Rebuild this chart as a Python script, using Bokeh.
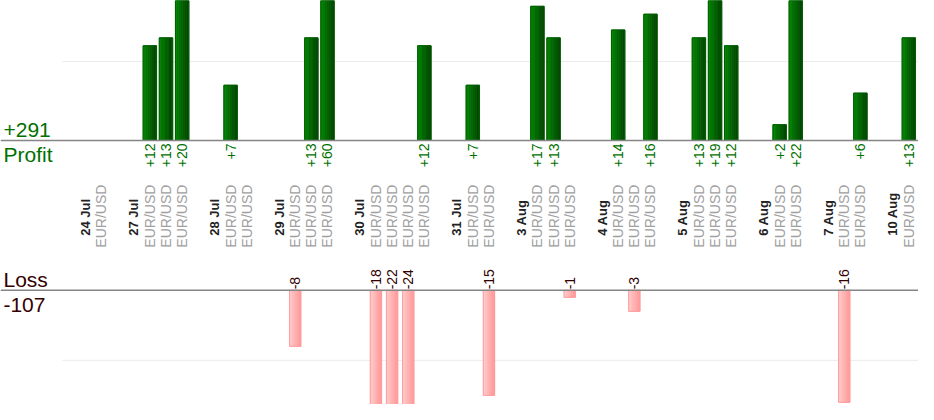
import numpy as np
from bokeh.plotting import figure
from bokeh.models import Range1d
from bokeh.core.properties import value
from bokeh.embed import file_html
from bokeh.resources import INLINE

# ---------------- data ----------------
dates = ["24 Jul", "27 Jul", "28 Jul", "29 Jul", "30 Jul", "31 Jul",
         "3 Aug", "4 Aug", "5 Aug", "6 Aug", "7 Aug", "10 Aug"]
trade_day = [0, 1, 1, 1, 2, 2, 3, 3, 3, 4, 4, 4, 4, 5, 5, 6, 6, 6,
             7, 7, 7, 8, 8, 8, 9, 9, 10, 10, 11]
pnl = [0, 12, 13, 20, 7, 0, -8, 13, 60, -18, -22, -24, 12, 7, -15,
       17, 13, -1, 14, -3, 16, 13, 19, 12, 2, 22, -16, 6, 13]
pair = ["EUR/USD"] * len(pnl)
profit_grid = [10]
loss_grid = [-10]

total_profit = sum(v for v in pnl if v > 0)
total_loss = sum(v for v in pnl if v < 0)

# ---------------- slot layout ----------------
date_slot, trade_slot = [], []
s = 0
for d in range(len(dates)):
    s += 1                 # empty gap slot
    date_slot.append(s)
    s += 1
    for day in trade_day:
        if day == d:
            trade_slot.append(s)
            s += 1
n_slots = s

REF_W, REF_H = 934, 407
W, H = 918, 404
SLOT0, SLOT_W = 69.8, 16.43
PROFIT_BASE, PROFIT_PX = 141, 7.95
LOSS_BASE, LOSS_PX = 292, 7.05


def xr(px):
    return (px - SLOT0) / SLOT_W


FONT = value("Liberation Sans")
GREEN_TXT = "#007000"
LOSS_TXT = "#330000"

p = figure(width=W, height=H, x_range=Range1d(xr(0), xr(REF_W)),
           y_range=Range1d(-REF_H, 0), output_backend="svg",
           toolbar_location=None, min_border=0,
           x_axis_type=None, y_axis_type=None)
p.extra_y_ranges = {
    "profit": Range1d(-(REF_H - PROFIT_BASE) / PROFIT_PX, PROFIT_BASE / PROFIT_PX),
    "loss": Range1d(-(REF_H - LOSS_BASE) / LOSS_PX, LOSS_BASE / LOSS_PX),
}
p.outline_line_color = None
p.background_fill_color = "white"
p.border_fill_color = "white"

# grid lines
p.segment(x0=xr(63), x1=xr(REF_W), y0=profit_grid, y1=profit_grid,
          line_color="#ebebeb", line_width=1, y_range_name="profit")
p.segment(x0=xr(63), x1=xr(REF_W), y0=loss_grid, y1=loss_grid,
          line_color="#ebebeb", line_width=1, y_range_name="loss")


def lerp(c1, c2, t):
    a = [int(c1[i:i + 2], 16) for i in (1, 3, 5)]
    b = [int(c2[i:i + 2], 16) for i in (1, 3, 5)]
    return "#%02x%02x%02x" % tuple(round(a[j] + (b[j] - a[j]) * t) for j in range(3))


def gradient_bars(xs, tops, bottoms, bw, c_left, c_right, edge, rname, K=10):
    sx, st, sb, sc = [], [], [], []
    for x, t, b in zip(xs, tops, bottoms):
        for k in range(K):
            sx.append(x - bw / 2 + (k + 0.5) * bw / K)
            st.append(t)
            sb.append(b)
            sc.append(lerp(c_left, c_right, k / (K - 1)))
    p.vbar(x=sx, top=st, bottom=sb, width=bw / K, fill_color=sc,
           line_color=sc, line_width=0.8, y_range_name=rname)
    p.vbar(x=xs, top=tops, bottom=bottoms, width=bw, fill_color=None,
           line_color=edge, line_width=1, y_range_name=rname)


pos_x = [trade_slot[i] for i, v in enumerate(pnl) if v > 0]
pos_v = [v for v in pnl if v > 0]
neg_x = [trade_slot[i] for i, v in enumerate(pnl) if v < 0]
neg_v = [v for v in pnl if v < 0]

gradient_bars(pos_x, pos_v, [0] * len(pos_v), 0.83, "#008400", "#004600",
              "#005e00", "profit")
gradient_bars(neg_x, [0] * len(neg_v), neg_v, 0.70, "#ffcccc", "#ff9a9a",
              "#ff9c9c", "loss")

# baselines
p.segment(x0=xr(0), x1=xr(REF_W), y0=[0], y1=[0], line_color="#858585",
          line_width=1.5, y_range_name="profit")
p.segment(x0=xr(0), x1=xr(REF_W), y0=[0], y1=[0], line_color="#858585",
          line_width=1.5, y_range_name="loss")

# value labels
p.text(x=pos_x, y=[-144] * len(pos_x), text=[f"+{v}" for v in pos_v],
       angle=np.pi / 2, text_align="right", text_baseline="middle",
       text_font=FONT, text_font_size="14px", text_color=GREEN_TXT)
p.text(x=neg_x, y=[-291] * len(neg_x), text=[f"{v}" for v in neg_v],
       angle=np.pi / 2, text_align="left", text_baseline="middle",
       text_font=FONT, text_font_size="14px", text_color=LOSS_TXT)

# category labels
p.text(x=date_slot, y=[-237] * len(date_slot), text=dates,
       angle=np.pi / 2, text_align="left", text_baseline="middle",
       text_font=FONT, text_font_size="13px", text_font_style="bold",
       text_color="#222222")
p.text(x=trade_slot, y=[-249] * len(trade_slot), text=pair,
       angle=np.pi / 2, text_align="left", text_baseline="middle",
       text_font=FONT, text_font_size="14px", text_color="#a0a0a0")

# side summary labels
p.text(x=[xr(3)] * 2, y=[-130.5, -155.5],
       text=[f"+{total_profit}", "Profit"], text_align="left",
       text_baseline="alphabetic", text_font=FONT, text_font_size="21px",
       text_color=GREEN_TXT)
p.text(x=[xr(3)] * 2, y=[-281, -307],
       text=["Loss", f"{total_loss}"], text_align="left",
       text_baseline="alphabetic", text_font=FONT, text_font_size="21px",
       text_color=LOSS_TXT)

open("out.html", "w").write(file_html(p, INLINE))
